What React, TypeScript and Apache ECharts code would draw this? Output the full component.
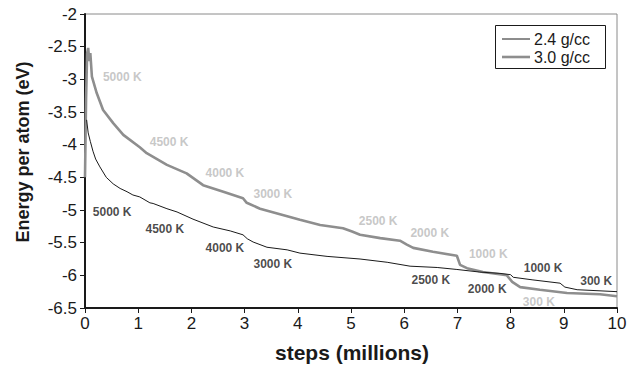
import React, { useEffect, useRef } from "react";
import * as echarts from "echarts";

const series24: [number, number][] = [
  [0.03, -3.62], [0.06, -3.82], [0.1, -3.95], [0.15, -4.1], [0.2, -4.22], [0.28, -4.34],
  [0.4, -4.5], [0.53, -4.6], [0.66, -4.67], [0.79, -4.72], [0.9, -4.77], [1.03, -4.8],
  [1.22, -4.89], [1.28, -4.9], [1.54, -4.98], [1.73, -5.03], [2.03, -5.14], [2.41, -5.26],
  [2.73, -5.32], [2.97, -5.38], [3.05, -5.44], [3.16, -5.49], [3.42, -5.57], [3.8, -5.61],
  [4.04, -5.66], [4.55, -5.71], [5.17, -5.75], [5.68, -5.8], [6.11, -5.86], [6.62, -5.88],
  [6.99, -5.91], [7.42, -5.95], [7.8, -5.97], [8.0, -5.99], [8.05, -6.03], [8.42, -6.07],
  [8.93, -6.12], [9.02, -6.18], [9.25, -6.22], [10, -6.25],
];

const series30: [number, number][] = [
  [0, -4.5], [0.02, -3.3], [0.04, -2.6], [0.06, -2.52], [0.08, -2.72], [0.1, -2.6],
  [0.13, -2.96], [0.22, -3.21], [0.34, -3.47], [0.53, -3.67], [0.72, -3.85], [1.03, -4.04],
  [1.16, -4.13], [1.54, -4.31], [1.91, -4.44], [2.22, -4.62], [2.6, -4.72], [2.97, -4.82],
  [3.04, -4.89], [3.29, -4.98], [4.04, -5.15], [4.42, -5.23], [4.85, -5.28], [5.02, -5.33],
  [5.17, -5.38], [5.55, -5.43], [5.92, -5.47], [6.05, -5.53], [6.17, -5.58], [6.54, -5.64],
  [6.99, -5.7], [7.05, -5.84], [7.18, -5.89], [7.48, -5.95], [7.93, -6.0], [8.03, -6.1],
  [8.18, -6.18], [8.55, -6.22], [9.06, -6.27], [9.68, -6.29], [10, -6.32],
];

const labels24: [number, number, string][] = [
  [0.51, -5.03, "5000 K"], [1.5, -5.29, "4500 K"], [2.63, -5.58, "4000 K"],
  [3.53, -5.83, "3000 K"], [6.5, -6.07, "2500 K"], [7.56, -6.21, "2000 K"],
  [8.61, -5.89, "1000 K"], [9.61, -6.09, "300 K"],
];

const labels30: [number, number, string][] = [
  [0.7, -2.96, "5000 K"], [1.58, -3.96, "4500 K"], [2.63, -4.43, "4000 K"],
  [3.53, -4.76, "3000 K"], [5.51, -5.17, "2500 K"], [6.48, -5.35, "2000 K"],
  [7.58, -5.67, "1000 K"], [8.53, -6.41, "300 K"],
];

const legendNames = ["2.4 g/cc", "3.0 g/cc"];
const xTitle = "steps (millions)";
const yTitle = "Energy per atom (eV)";

const FONT = "'Liberation Sans', Arial, Helvetica, sans-serif";
const BLACK = "#1a1a1a";
const GRAY = "#8e8e8e";
const LGRAY = "#b9b9b9";

export default function App() {
  const ref = useRef<HTMLDivElement>(null);
  useEffect(() => {
    document.body.style.margin = "0";
    if (!ref.current) return;
    const chart = echarts.init(ref.current, null, { renderer: "svg" });
    const labelSeries = (arr: [number, number, string][], color: string) => ({
      type: "scatter",
      symbolSize: 0,
      silent: true,
      data: arr.map((d) => ({ value: [d[0], d[1]], name: d[2] })),
      label: {
        show: true,
        position: "inside",
        formatter: (p: any) => p.name,
        color,
        fontFamily: FONT,
        fontWeight: "bold",
        fontSize: 12,
      },
      z: 5,
    });
    chart.setOption({
      animation: false,
      backgroundColor: "#ffffff",
      grid: {
        left: 85,
        right: 13,
        top: 14,
        bottom: 59,
        show: true,
        borderColor: "#8a8a8a",
        borderWidth: 1,
      },
      xAxis: {
        type: "value",
        min: 0,
        max: 10,
        interval: 1,
        axisLine: { lineStyle: { color: BLACK, width: 2 } },
        axisTick: { length: 5, lineStyle: { color: BLACK, width: 1 } },
        axisLabel: { fontFamily: FONT, fontSize: 17, color: BLACK, margin: 7 },
        splitLine: { show: false },
      },
      yAxis: {
        type: "value",
        min: -6.5,
        max: -2,
        interval: 0.5,
        axisLine: { show: true, lineStyle: { color: BLACK, width: 2 } },
        axisTick: { show: true, length: 5, lineStyle: { color: BLACK, width: 1 } },
        axisLabel: { fontFamily: FONT, fontSize: 17, color: BLACK, margin: 8 },
        splitLine: { show: false },
      },
      series: [
        {
          name: legendNames[1],
          type: "line",
          data: series30,
          showSymbol: false,
          symbol: "none",
          lineStyle: { color: GRAY, width: 2.6 },
          z: 3,
        },
        {
          name: legendNames[0],
          type: "line",
          data: series24,
          showSymbol: false,
          symbol: "none",
          lineStyle: { color: BLACK, width: 1 },
          z: 4,
        },
        labelSeries(labels24, BLACK),
        labelSeries(labels30, LGRAY),
      ],
      graphic: [
        {
          type: "text",
          x: 352,
          y: 352,
          style: {
            text: xTitle,
            font: `bold 21px ${FONT}`,
            fill: BLACK,
            align: "center",
            verticalAlign: "middle",
          },
        },
        {
          type: "text",
          x: 23,
          y: 152,
          rotation: Math.PI / 2,
          style: {
            text: yTitle,
            font: `bold 18px ${FONT}`,
            fill: BLACK,
            align: "center",
            verticalAlign: "middle",
          },
        },
        {
          type: "rect",
          shape: { x: 495.5, y: 25.5, width: 110, height: 43 },
          style: { fill: "#fff", stroke: BLACK, lineWidth: 1 },
          z: 10,
        },
        {
          type: "line",
          shape: { x1: 502, y1: 39, x2: 530, y2: 39 },
          style: { stroke: BLACK, lineWidth: 1 },
          z: 11,
        },
        {
          type: "text",
          x: 534,
          y: 39,
          style: {
            text: legendNames[0],
            font: `16px ${FONT}`,
            lineHeight: 16,
            fill: BLACK,
            verticalAlign: "middle",
          },
          z: 11,
        },
        {
          type: "line",
          shape: { x1: 502, y1: 57, x2: 530, y2: 57 },
          style: { stroke: GRAY, lineWidth: 2.6 },
          z: 11,
        },
        {
          type: "text",
          x: 534,
          y: 57,
          style: {
            text: legendNames[1],
            font: `16px ${FONT}`,
            lineHeight: 16,
            fill: BLACK,
            verticalAlign: "middle",
          },
          z: 11,
        },
      ],
    });
    return () => chart.dispose();
  }, []);
  return <div ref={ref} style={{ width: 630, height: 367 }} />;
}
